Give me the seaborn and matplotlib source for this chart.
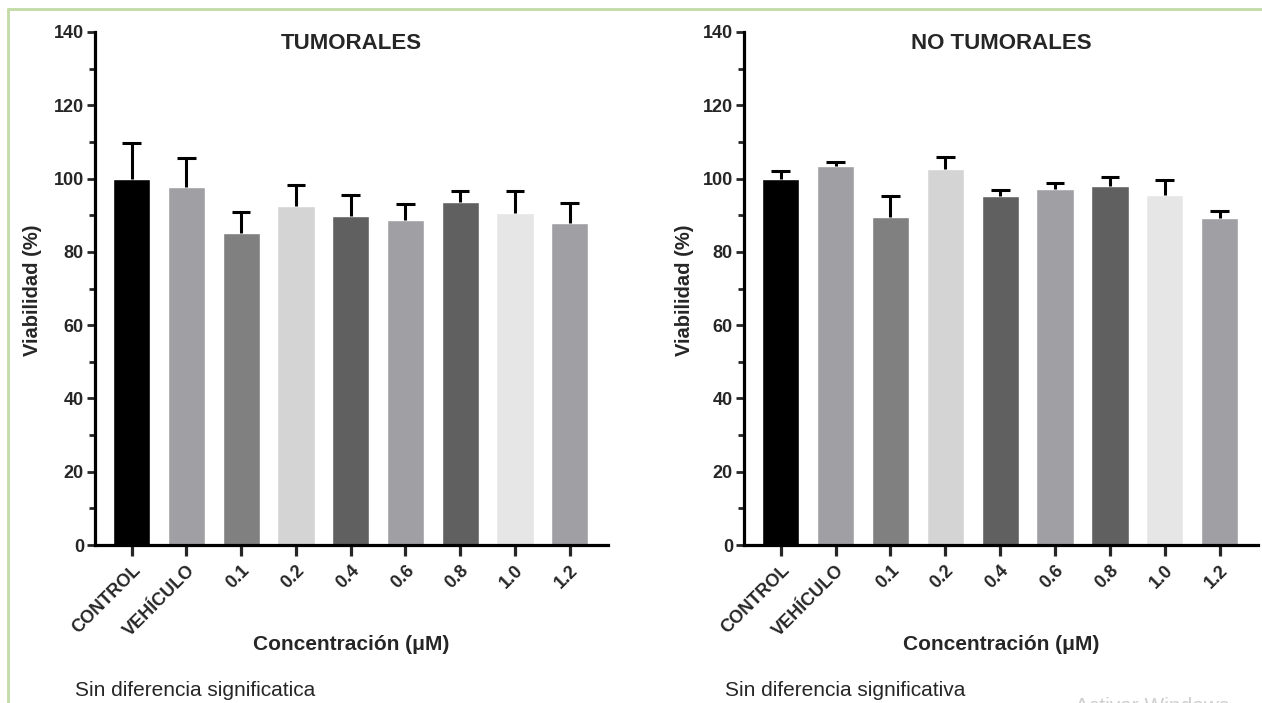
import numpy as np
import pandas as pd
import matplotlib
matplotlib.use("Agg")
import matplotlib.pyplot as plt
import seaborn as sns
from matplotlib.ticker import MultipleLocator

categories = ["CONTROL", "VEHÍCULO", "0.1", "0.2", "0.4", "0.6", "0.8", "1.0", "1.2"]
tumor_mean = [100.0, 97.6, 85.2, 92.5, 89.8, 88.7, 93.7, 90.7, 87.9]
tumor_sd = [9.8, 8.1, 5.6, 5.8, 5.7, 4.4, 2.9, 5.8, 5.4]
normal_mean = [100.0, 103.4, 89.5, 102.5, 95.2, 97.1, 97.9, 95.4, 89.2]
normal_sd = [2.1, 1.2, 5.7, 3.4, 1.6, 1.6, 2.5, 4.3, 2.0]
bar_colors = ["#000000", "#a0a0a4", "#808080", "#d4d4d4", "#606060",
              "#a0a0a4", "#606060", "#e6e6e6", "#a0a0a4"]
titles = ["TUMORALES", "NO TUMORALES"]
notes = ["Sin diferencia significatica", "Sin diferencia significativa"]
ylabel = "Viabilidad (%)"
xlabel = "Concentración (μM)"

sns.set_style("white")
plt.rcParams['font.family'] = ['Liberation Sans', 'DejaVu Sans']

W, H = 1262, 703
fig = plt.figure(figsize=(W / 100, H / 100), dpi=100)

def px(x0, y0, x1, y1):
    return [x0 / W, 1 - y1 / H, (x1 - x0) / W, (y1 - y0) / H]

axes_boxes = [px(95, 32, 608, 545), px(744, 32, 1258, 545)]
datasets = [(tumor_mean, tumor_sd), (normal_mean, normal_sd)]
ylabel_x = [33, 685]
note_x = [75, 725]

for box, (means, sds), title, note, ylx, nx in zip(axes_boxes, datasets, titles, notes, ylabel_x, note_x):
    ax = fig.add_axes(box)
    df = pd.DataFrame({"cat": categories, "val": means})
    sns.barplot(data=df, x="cat", y="val", hue="cat", order=categories,
                hue_order=categories, palette=bar_colors, legend=False,
                width=0.68, errorbar=None, saturation=1, ax=ax, zorder=2)
    xs = np.arange(len(categories))
    tops = np.array(means) + np.array(sds)
    ax.vlines(xs, means, tops, color="black", linewidth=2.2, zorder=3)
    ax.hlines(tops, xs - 0.17, xs + 0.17, color="black", linewidth=2.2, zorder=3)
    ax.set_xlim(-0.67, 8.7)
    ax.set_ylim(0, 140)
    ax.yaxis.set_major_locator(MultipleLocator(20))
    ax.yaxis.set_minor_locator(MultipleLocator(10))
    for s in ["top", "right"]:
        ax.spines[s].set_visible(False)
    for s in ["left", "bottom"]:
        ax.spines[s].set_linewidth(2.3)
        ax.spines[s].set_color("black")
    ax.tick_params(axis="y", which="major", length=6, width=2, direction="out",
                   labelsize=13, pad=2, left=True)
    ax.tick_params(axis="y", which="minor", length=4, width=2, direction="out", left=True)
    ax.tick_params(axis="x", which="major", length=8, width=2.3, direction="out",
                   labelsize=13, pad=4, bottom=True)
    for lab in ax.get_yticklabels():
        lab.set_fontweight("bold")
    ax.set_xticks(xs)
    ax.set_xticklabels(categories, rotation=45, ha="right", rotation_mode="anchor",
                       fontweight="bold")
    ax.set_xlabel("")
    ax.set_ylabel("")
    ax.text(0.5, 0.978, title, transform=ax.transAxes, ha="center", va="center",
            fontsize=16, fontweight="bold")
    cx = (box[0] + box[2] / 2)
    fig.text(cx, 1 - 645 / H, xlabel, ha="center", va="center", fontsize=15,
             fontweight="bold")
    fig.text(ylx / W, 1 - 290 / H, ylabel, ha="center", va="center", rotation=90,
             fontsize=14.5, fontweight="bold")
    fig.text(nx / W, 1 - 690 / H, note, ha="left", va="center", fontsize=15)

# watermark fragment (cut off by the bottom edge) and border
fig.text(1075 / W, 1 - 697 / H, "Activar Windows", ha="left", va="top",
         fontsize=15, color="#cfcfcf")
fig.add_artist(plt.Line2D([8 / W, 1], [1 - 9 / H, 1 - 9 / H], color="#c3dba6",
                          linewidth=2, transform=fig.transFigure))
fig.add_artist(plt.Line2D([8 / W, 8 / W], [1 - 9 / H, 0], color="#c3dba6",
                          linewidth=2, transform=fig.transFigure))

fig.savefig("out.png", dpi=100)
